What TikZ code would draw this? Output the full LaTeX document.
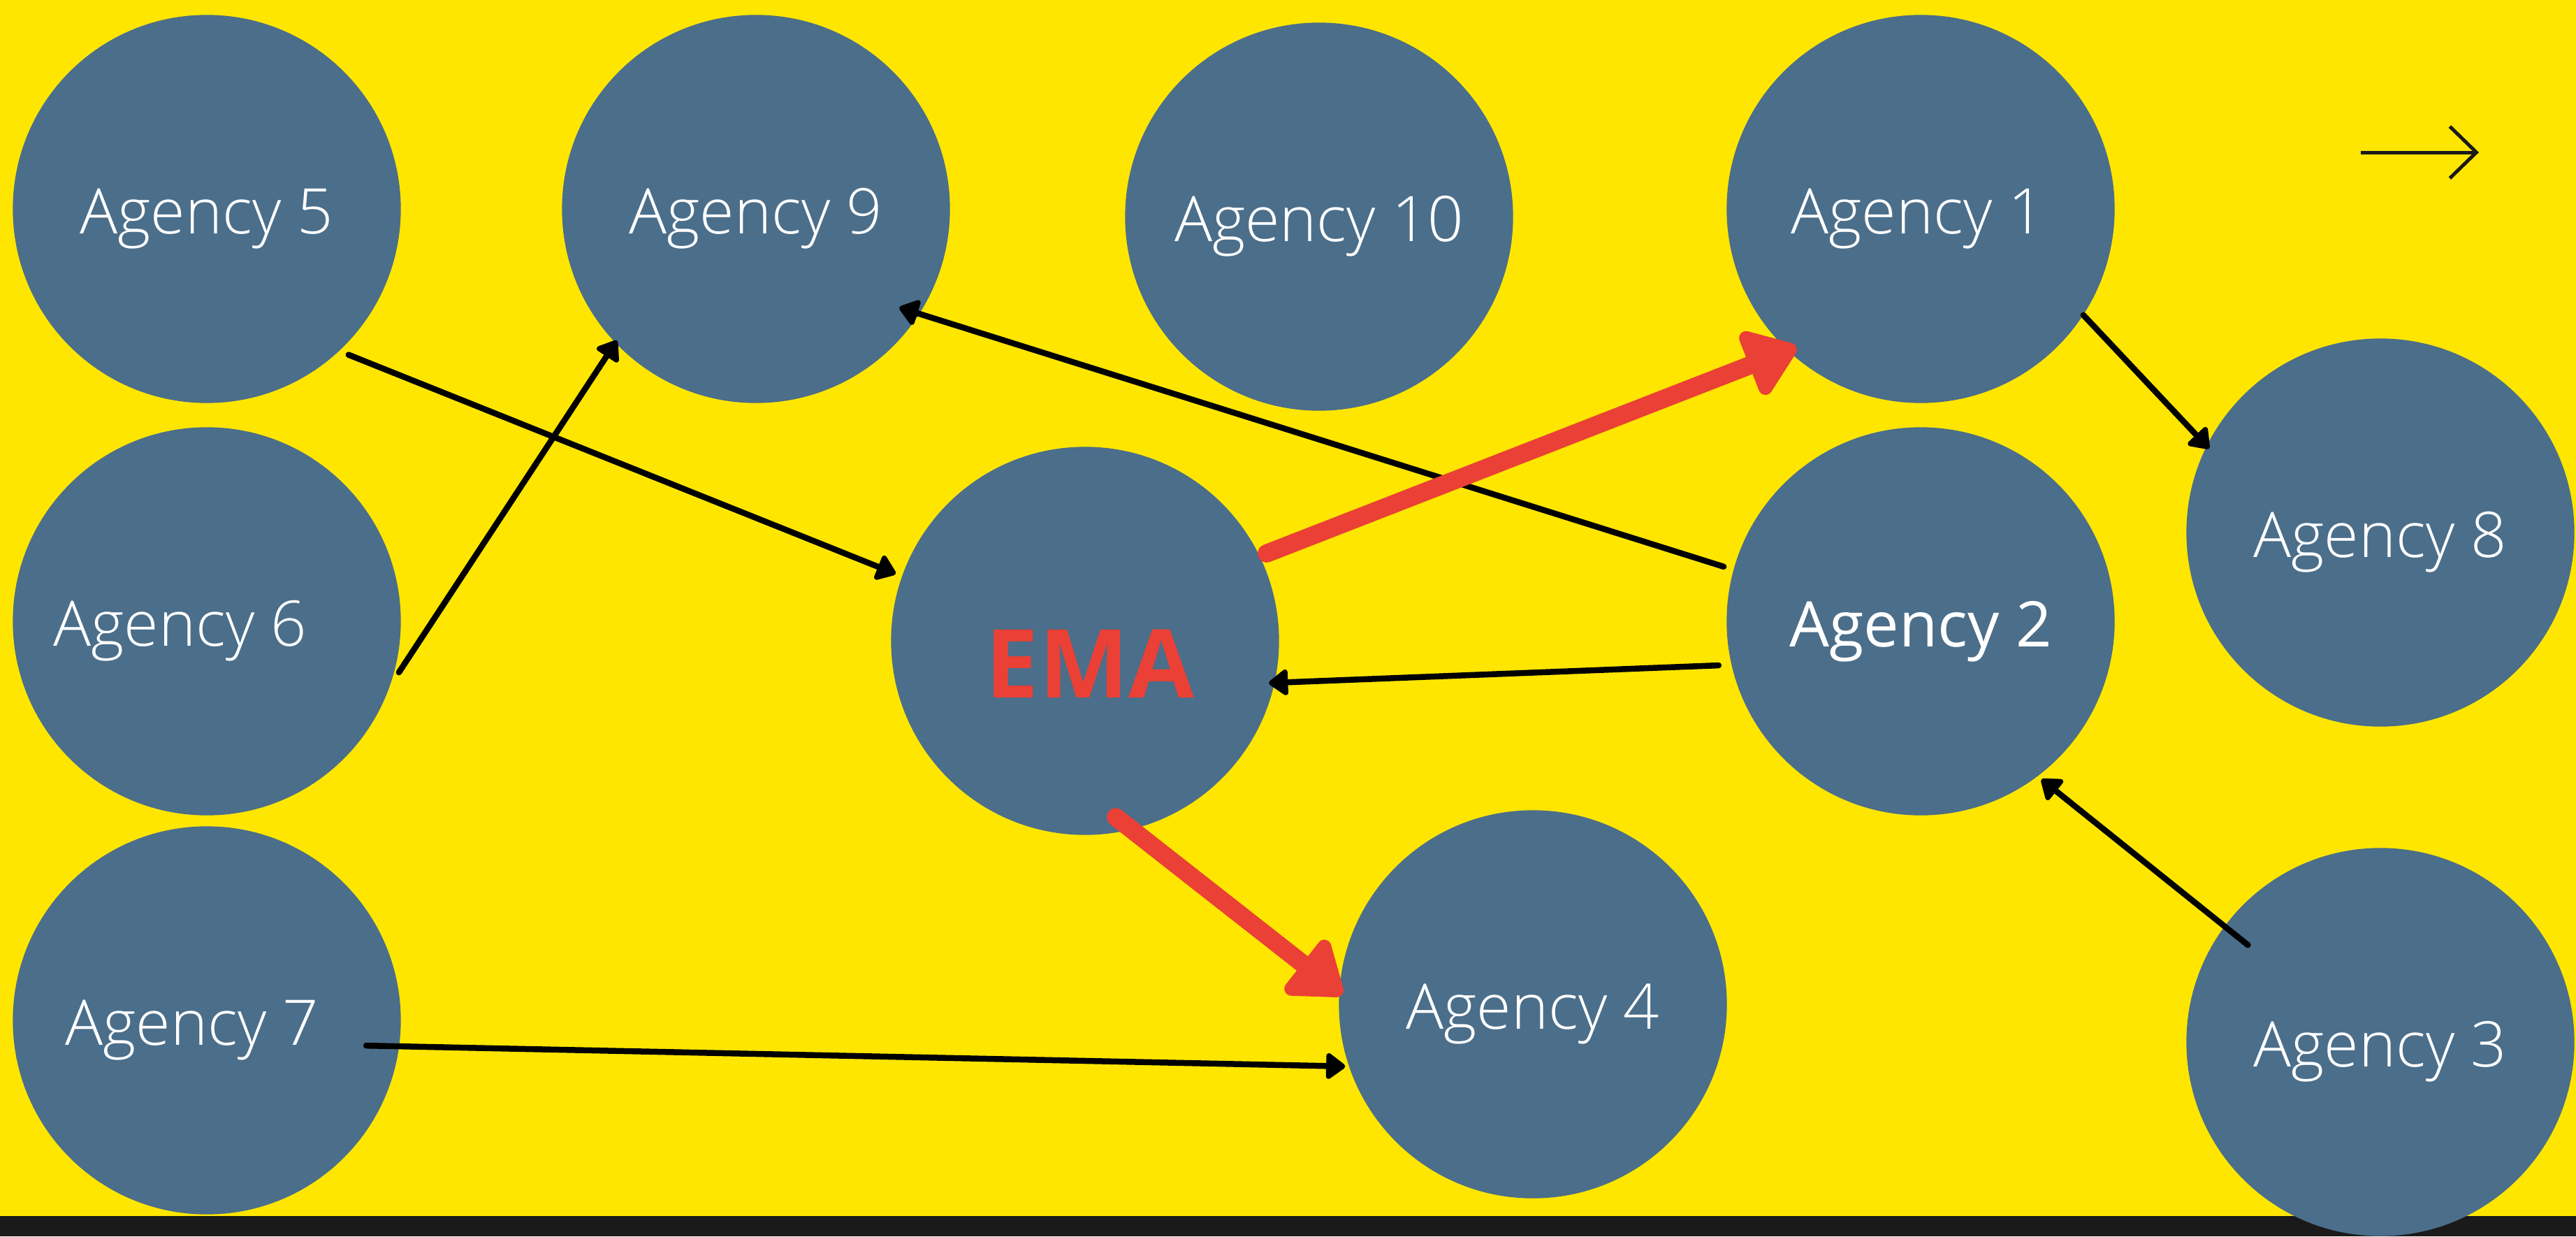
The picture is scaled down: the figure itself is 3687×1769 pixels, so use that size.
\documentclass[tikz,border=0pt]{standalone}
\usepackage{fontspec}
\setmainfont{Open Sans}
\newfontfamily\lightfont{Open Sans Light}
\usetikzlibrary{arrows.meta,calc}

\definecolor{bgyellow}{HTML}{FFE600}
\definecolor{bubble}{HTML}{4B6E8A}
\definecolor{emared}{HTML}{EA4036}
\definecolor{barblack}{HTML}{1A1A1A}

\tikzset{
  bubblenode/.style={circle, fill=bubble, minimum size=5.55cm, inner sep=0pt, outer sep=0pt},
  lbl/.style={text=white, anchor=base, inner sep=0pt,
              font=\lightfont\fontsize{25.6pt}{30pt}\selectfont},
  lblreg/.style={text=white, anchor=base, inner sep=0pt,
              font=\fontsize{25.6pt}{30pt}\selectfont},
  emalbl/.style={text=emared, anchor=base, inner sep=0pt,
              font=\bfseries\fontsize{38.7pt}{44pt}\selectfont},
  link/.style={draw=black, line width=0.085cm, line cap=round,
               -{Triangle[length=0.3cm,width=0.42cm,round]}},
  redlink/.style={draw=emared, line width=0.26cm, line cap=round,
               -{Triangle[length=0.8cm,width=1.1cm,round]}},
  pointer/.style={draw=barblack, line width=0.05cm,
               -{Straight Barb[length=0.38cm,width=0.74cm]}},
}

\begin{document}
\begin{tikzpicture}[x=0.01cm, y=-0.01cm]
  \useasboundingbox (0,0) rectangle (3687,1769);
  % background and footer strip
  \fill[bgyellow] (0,0) rectangle (3687,1769);
  \fill[barblack] (0,1740) rectangle (3687,1769);

  % bubbles
  \node[bubblenode] (a5)  at (296,299)   {};
  \node[bubblenode] (a9)  at (1082,299)  {};
  \node[bubblenode] (a10) at (1888,310)  {};
  \node[bubblenode] (a1)  at (2749,299)  {};
  \node[bubblenode] (a8)  at (3407,762)  {};
  \node[bubblenode] (a6)  at (296,889)   {};
  \node[bubblenode] (ema) at (1553,917)  {};
  \node[bubblenode] (a2)  at (2749,889)  {};
  \node[bubblenode] (a7)  at (296,1460)  {};
  \node[bubblenode] (a4)  at (2194,1437) {};
  \node[bubblenode] (a3)  at (3407,1491) {};

  % labels
  \node[lbl]    (t5)   at (296,334)   {Agency 5};
  \node[lbl]    (t9)   at (1082,334)  {Agency 9};
  \node[lbl]    (t10)  at (1888,345)  {Agency 10};
  \node[lbl]    (t1)   at (2745,334)  {Agency 1};
  \node[lbl]    (t8)   at (3407,797)  {Agency 8};
  \node[lbl]    (t6)   at (258,924)   {Agency 6};
  \node[lblreg] (t2)   at (2749,925)  {Agency 2};
  \node[lbl]    (t7)   at (275,1495)  {Agency 7};
  \node[lbl]    (t4)   at (2194,1472) {Agency 4};
  \node[lbl]    (t3)   at (3407,1526) {Agency 3};
  \node[emalbl] (tema) at (1560,998)  {EMA};

  % connectors
  \draw[link] ($(a5)+(45.8:291)$)   -- ($(ema)+(-160.5:287.5)$);
  \draw[link] ($(a6)+(14.9:284.5)$) -- ($(a9)+(136.6:274)$);
  \draw[link] ($(a2)+(-164.5:292.6)$) -- ($(a9)+(34.5:249)$);
  \draw[link] ($(a2)+(167.7:296)$)  -- ($(ema)+(12.9:270)$);
  \draw[link] ($(a7)+(9:231)$)      -- ($(a4)+(161.7:283)$);
  \draw[link] ($(a1)+(33.1:278)$)   -- ($(a8)+(-153.9:273)$);
  \draw[link] ($(a3)+(-143.8:235)$) -- ($(a2)+(52.6:284.6)$);
  \draw[redlink] ($(ema)+(-25.7:288.5)$) -- ($(a1)+(131.96:266)$);
  \draw[redlink] ($(ema)+(80.1:256)$)    -- ($(a4)+(-177.1:273.4)$);

  % pointer in the top right corner
  \coordinate (p1) at (3379,218);
  \coordinate (p2) at (3548,218);
  \draw[pointer] (p1) -- (p2);
\end{tikzpicture}
\end{document}
